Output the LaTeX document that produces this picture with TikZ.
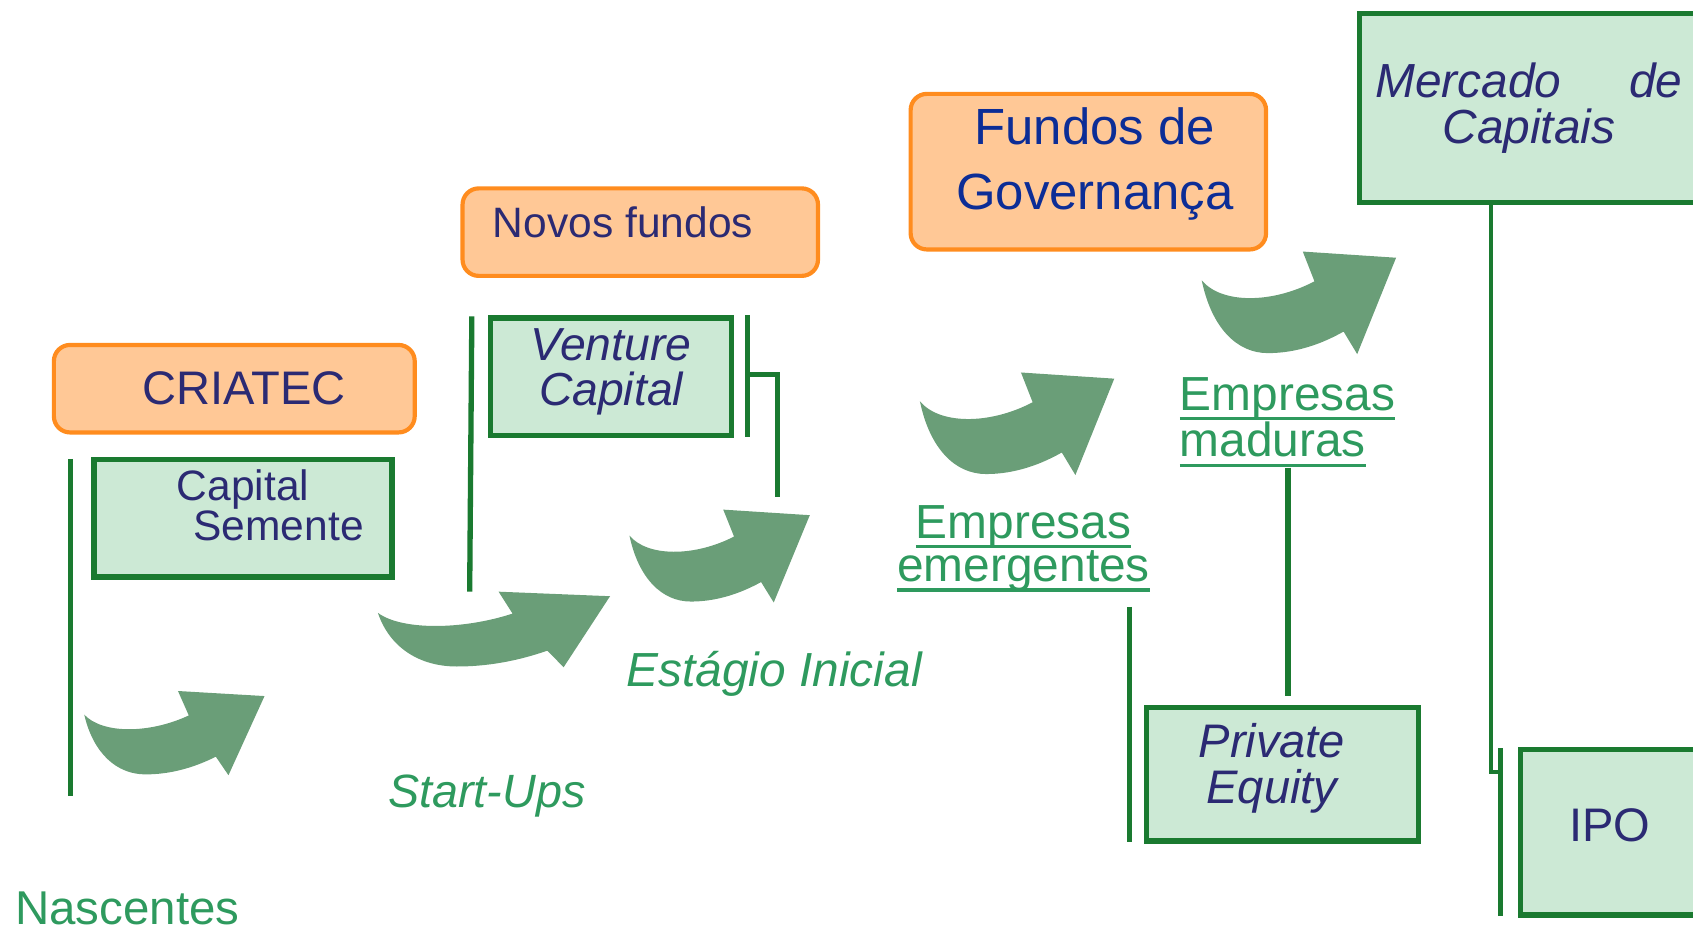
\documentclass[tikz,border=0pt]{standalone}
\usepackage{fontspec}
\setmainfont{Liberation Sans}
\usetikzlibrary{positioning}

\definecolor{boxgreen}{RGB}{26,122,48}
\definecolor{boxfill}{RGB}{204,233,213}
\definecolor{fundfill}{RGB}{255,200,150}
\definecolor{fundline}{RGB}{255,140,30}
\definecolor{navy}{RGB}{43,42,115}
\definecolor{govblue}{RGB}{12,45,150}
\definecolor{arrowgreen}{RGB}{106,158,120}
\definecolor{stagegreen}{RGB}{46,154,94}

\newcommand{\ulword}[1]{\setbox0\hbox{#1}\rlap{\rule[-2.6pt]{\wd0}{0.8pt}}\box0}

\tikzset{
  fundbox/.style={draw=fundline, line width=1.1pt, fill=fundfill, rounded corners=0.15cm,
    text=navy, inner sep=0pt, align=center},
  stagebox/.style={draw=boxgreen, line width=1.4pt, fill=boxfill, text=navy,
    align=center, inner sep=0pt},
  stagetext/.style={text=stagegreen, align=center, inner sep=0pt},
  bar/.style={draw=boxgreen, line width=1.4pt},
  bigarrow/.pic={
    \fill[arrowgreen] (0,28) .. controls (10,51) and (36,51) .. (58,29) -- (52,0) -- (100,6)
      -- (80,100) -- (73,78) .. controls (59,93) and (46,99) .. (34,99)
      .. controls (18,99) and (5,74) .. (0,28) -- cycle;
  }
}

\begin{document}
\begin{tikzpicture}[x=0.01cm, y=-0.01cm]
  \useasboundingbox (0,0) rectangle (1568,864);

  % arrows
  \pic[xscale=1.67, yscale=0.78] at (78,640) {bigarrow};
  \pic[xscale=2.15, yscale=0.70] at (350,548) {bigarrow};
  \pic[xscale=1.67, yscale=0.86] at (583,472) {bigarrow};
  \pic[xscale=1.80, yscale=0.95] at (852,345) {bigarrow};
  \pic[xscale=1.80, yscale=0.95] at (1113,233) {bigarrow};

  % funds
  \node[fundbox, minimum width=3.34cm, minimum height=0.81cm,
    font=\fontsize{12.4}{14}\selectfont] (criatec) at (217,360) {\hspace*{0.18cm}CRIATEC};
  \node[fundbox, minimum width=3.29cm, minimum height=0.81cm, text height=0.35cm, text depth=0.25cm,
    font=\fontsize{11.2}{13}\selectfont] (novos) at (593,215) {Novos fundos\hspace*{0.32cm}};
  \node[fundbox, minimum width=3.29cm, minimum height=1.44cm, text=govblue,
    text height=1.05cm, text depth=0.35cm,
    font=\fontsize{13.4}{17}\selectfont] (fundos) at (1008,159) {\hspace*{0.12cm}Fundos de\\\hspace*{0.12cm}Governança};

  % stages
  \node[stagebox, minimum width=2.76cm, minimum height=1.09cm, text height=0.75cm, text depth=0.34cm,
    font=\fontsize{11.2}{10.5}\selectfont] (semente) at (225,480) {Capital\\\hspace*{0.66cm}Semente};
  \node[stagebox, minimum width=2.23cm, minimum height=1.09cm, text height=0.8cm, text depth=0.26cm,
    font=\fontsize{12.2}{12}\selectfont\itshape] (venture) at (566,349) {Venture\\Capital};
  \node[stagebox, minimum width=2.52cm, minimum height=1.24cm, text height=0.85cm, text depth=0.31cm,
    font=\fontsize{12.4}{12}\selectfont\itshape] (private) at (1188,717)
    {Private\hspace*{0.2cm}\\Equity\hspace*{0.2cm}};
  \node[stagebox, minimum width=3.13cm, minimum height=1.75cm, text width=2.84cm,
    font=\fontsize{12.6}{12}\selectfont\itshape] (mercado) at (1416,100)
    {Mercado\hskip 0pt plus 1fill de\\Capitais};
  \node[stagebox, minimum width=1.65cm, minimum height=1.53cm, text height=0.4cm, text depth=0.24cm,
    font=\fontsize{12.4}{14}\selectfont] (ipo) at (1491,771) {IPO};

  % stage names
  \node[stagetext, font=\fontsize{12.5}{14}\selectfont] (nascentes) at (118,841) {Nascentes};
  \node[stagetext, font=\fontsize{12.3}{14}\selectfont\itshape] (startups) at (451,737) {Start-Ups};
  \node[stagetext, font=\fontsize{12.6}{14}\selectfont\itshape] (estagio) at (717,624) {Estágio Inicial};
  \node[stagetext, font=\fontsize{12.6}{11.4}\selectfont] (emergentes) at (948,508)
    {\ulword{Empresas}\\\ulword{emergentes}};
  \node[stagetext, anchor=west, align=left, font=\fontsize{12.6}{12.2}\selectfont] (maduras) at (1092,391)
    {\ulword{Empresas}\\\ulword{maduras}};

  % bars
  \coordinate (sementetop) at (65,425);
  \coordinate (sementebot) at (65,737);
  \draw[bar] (sementetop) -- (sementebot);
  \coordinate (venturetop) at (437,293);
  \coordinate (venturebot) at (435,548);
  \draw[bar] (venturetop) -- (venturebot);
  \coordinate (ventureright) at (692,292);
  \coordinate (ventureknee) at (692,347);
  \coordinate (venturedrop) at (720,460);
  \draw[bar] (ventureright) -- (692,405);
  \draw[bar] (ventureknee) -| (venturedrop);
  \coordinate (emergtop) at (1046,562);
  \coordinate (emergbot) at (1046,780);
  \draw[bar] (emergtop) -- (emergbot);
  \coordinate (madurastop) at (1193,433);
  \coordinate (madurasbot) at (1193,645);
  \draw[bar] (madurastop) -- (madurasbot);
  \coordinate (mercadofoot) at (1381,190);
  \coordinate (ipotop) at (1390,693);
  \coordinate (ipobot) at (1390,848);
  \draw[bar, line width=1.1pt] (mercadofoot) |- (1392,715);
  \draw[bar] (ipotop) -- (ipobot);
\end{tikzpicture}
\end{document}
